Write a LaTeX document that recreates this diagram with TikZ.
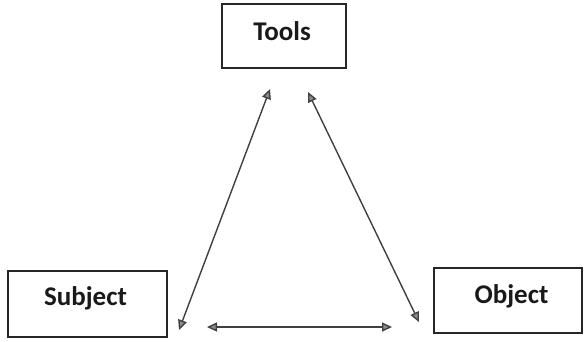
\documentclass[tikz,border=0pt]{standalone}
\usepackage{fontspec}
\setmainfont{Carlito}
\usetikzlibrary{arrows.meta}
\begin{document}
\begin{tikzpicture}[x=1pt,y=-1pt,
  box/.style={draw=black!85, line width=2pt, minimum width=#1, inner sep=0pt},
  lbl/.style={font=\bfseries\fontsize{27}{30}\selectfont, text=black!90},
  link/.style={draw=black!75, line width=1.4pt, {Triangle[length=10pt,width=9pt,fill=black!45]}-{Triangle[length=10pt,width=9pt,fill=black!45]}}]
\useasboundingbox (0,0) rectangle (585,341);
\node[box=124pt, minimum height=64pt] (tools) at (284,36) {};
\node[box=159pt, minimum height=66pt] (subject) at (87.5,304) {};
\node[box=148pt, minimum height=65pt] (object) at (508,300.5) {};
\node[lbl] (toolsT) at (282,31) {Tools};
\node[lbl] (subjectT) at (85.5,298) {Subject};
\node[lbl] (objectT) at (511.5,296.5) {Object};
\coordinate (t1) at (270,89);
\coordinate (s1) at (179,330);
\coordinate (t2) at (308,92);
\coordinate (o1) at (419,322);
\coordinate (s2) at (207,327);
\coordinate (o2) at (392,327);
\draw[link] (t1) -- (s1);
\draw[link] (t2) -- (o1);
\draw[link] (s2) -- (o2);
\end{tikzpicture}
\end{document}
